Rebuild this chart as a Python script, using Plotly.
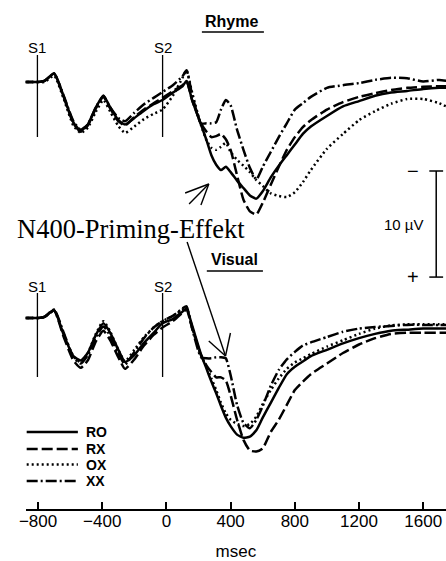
import plotly.graph_objects as go

# ---------------- data ----------------
time_ms = [-900, -800, -760, -700, -640, -580, -534, -490, -440, -393, -350, -300, -258, -200,
           -140, -80, -25, 40, 100, 125, 160, 215, 250, 280, 310, 340, 370, 400, 440, 480,
           520, 560, 600, 650, 700, 750, 800, 850, 900, 1000, 1100, 1200, 1300, 1400, 1500,
           1600, 1700, 1750]

# Rhyme task (microvolts, positive plotted downward)
rhyme_RO = [0.0, 0.0, -0.1, -0.8, 1.4, 3.8, 4.6, 4.0, 2.4, 1.3, 2.4, 3.6, 4.0, 3.4, 2.7, 2.1,
            1.7, 1.0, 0.4, -0.1, 1.7, 4.0, 5.5, 6.9, 7.8, 8.3, 8.0, 8.5, 9.3, 10.0, 10.7, 11.0,
            10.3, 9.0, 7.9, 6.9, 5.9, 4.9, 4.2, 3.2, 2.3, 1.8, 1.3, 1.0, 0.85, 0.65, 0.55, 0.55]
rhyme_RX = [0.0, 0.0, -0.1, -0.8, 1.4, 3.9, 4.7, 4.1, 2.5, 1.4, 2.5, 3.7, 4.1, 3.3, 2.6, 2.0,
            1.5, 0.85, 0.3, -0.1, 1.7, 3.9, 4.7, 5.2, 5.1, 4.9, 5.4, 6.4, 8.8, 11.1, 12.2, 12.5,
            11.4, 9.7, 8.0, 6.4, 5.2, 4.25, 3.6, 2.6, 1.9, 1.4, 1.05, 0.75, 0.55, 0.45, 0.4, 0.4]
rhyme_OX = [0.0, 0.0, 0.0, -0.6, 1.6, 4.1, 4.8, 4.3, 2.8, 1.7, 2.8, 4.15, 4.8, 4.2, 3.5, 3.0,
            2.6, 1.3, -0.4, -1.1, 1.0, 4.05, 5.5, 6.2, 6.4, 6.1, 5.75, 6.6, 7.35, 7.9, 8.5, 9.25,
            9.8, 10.5, 10.75, 10.85, 10.4, 9.45, 8.3, 6.3, 4.9, 3.6, 2.75, 2.05, 1.6, 1.6, 2.0, 2.35]
rhyme_XX = [0.0, 0.0, -0.1, -0.8, 1.3, 3.7, 4.5, 4.0, 2.4, 1.3, 2.4, 3.4, 3.7, 2.9, 2.1, 1.5,
            0.95, 0.3, -0.55, -1.1, 1.2, 3.9, 3.9, 3.9, 3.8, 2.6, 1.7, 2.2, 4.5, 6.4, 8.1, 9.2,
            8.0, 6.6, 5.2, 3.9, 2.6, 2.0, 1.4, 0.55, 0.3, 0.1, -0.2, -0.4, -0.35, -0.05, -0.2, -0.1]

# Visual task
visual_RO = [0.0, 0.0, -0.1, -0.75, 1.6, 3.6, 4.0, 3.3, 1.6, 0.5, 1.4, 3.0, 4.15, 3.5, 2.35, 1.4,
             0.5, 0.1, -0.6, -0.9, 0.7, 3.4, 4.8, 6.0, 7.1, 8.3, 9.4, 10.2, 11.0, 11.3, 11.2, 10.6,
             9.4, 8.0, 6.6, 5.3, 4.6, 4.1, 3.6, 3.0, 2.4, 1.9, 1.5, 1.2, 1.1, 1.0, 1.0, 1.0]
visual_RX = [0.0, 0.0, -0.1, -0.7, 1.8, 4.0, 4.7, 4.0, 2.2, 1.2, 2.1, 3.7, 4.8, 3.9, 2.6, 1.6,
             0.9, 0.3, -0.5, -0.8, 0.9, 3.5, 4.5, 5.1, 5.6, 5.6, 5.9, 7.3, 9.6, 11.5, 12.5, 12.6,
             12.3, 10.75, 9.6, 8.2, 6.8, 6.0, 5.3, 4.3, 3.3, 2.5, 1.9, 1.5, 1.4, 1.4, 1.4, 1.4]
visual_OX = [0.0, 0.0, -0.1, -0.7, 1.5, 3.6, 4.2, 3.3, 1.5, 0.3, 1.3, 3.0, 4.1, 3.0, 1.8, 0.9,
             0.3, -0.2, -0.8, -1.0, 0.9, 3.5, 4.6, 5.7, 6.8, 8.0, 9.0, 9.6, 10.0, 10.2, 10.0, 9.3,
             8.1, 6.8, 5.7, 4.8, 4.2, 3.8, 3.4, 2.7, 2.1, 1.5, 1.0, 0.7, 0.6, 0.6, 0.6, 0.6]
visual_XX = [0.0, 0.0, -0.1, -0.8, 1.4, 3.7, 4.3, 3.5, 1.8, 0.8, 1.7, 3.3, 4.4, 3.2, 1.9, 0.9,
             0.3, -0.2, -0.9, -1.1, 1.0, 3.7, 3.8, 3.8, 3.7, 3.7, 3.8, 5.4, 8.2, 9.9, 10.4, 9.6,
             8.3, 6.4, 4.9, 3.9, 3.2, 2.6, 2.3, 1.8, 1.3, 1.0, 0.85, 0.75, 0.65, 0.65, 0.65, 0.65]

conditions = ["RO", "RX", "OX", "XX"]
panel_titles = ["Rhyme", "Visual"]
tick_vals = [-800, -400, 0, 400, 800, 1200, 1600]
tick_text = ["\u2212800", "\u2212400", "0", "400", "800", "1200", "1600"]
stim_times = [-804, -24]
stim_labels = ["S1", "S2"]
scale_bar_uv = [8.4, 18.4]          # 10 µV calibration bar (top panel units)
scale_label = "10 \u00b5V"
effect_label = "N400-Priming-Effekt"

# ---------------- styling ----------------
W, H = 446, 561
FONT = "Liberation Sans, Arial, Helvetica, sans-serif"
SERIF = "Liberation Serif, Times New Roman, serif"
DASH = {"RO": "solid", "RX": "11px,4px", "OX": "2px,3px", "XX": "11px,3px,2px,3px"}
LW = 2.5


def P(px, py):
    """figure pixel -> paper coordinates (margins are zero)"""
    return px / W, 1 - py / H


rhyme = {"RO": rhyme_RO, "RX": rhyme_RX, "OX": rhyme_OX, "XX": rhyme_XX}
visual = {"RO": visual_RO, "RX": visual_RX, "OX": visual_OX, "XX": visual_XX}

fig = go.Figure()
for c in conditions:
    fig.add_trace(go.Scatter(
        x=time_ms, y=rhyme[c], xaxis="x2", yaxis="y", mode="lines", name=c,
        line=dict(color="black", width=LW, dash=DASH[c], shape="spline", smoothing=0.5),
        showlegend=False, hoverinfo="skip"))
for c in conditions:
    fig.add_trace(go.Scatter(
        x=time_ms, y=visual[c], xaxis="x", yaxis="y2", mode="lines", name=c,
        line=dict(color="black", width=LW, dash=DASH[c], shape="spline", smoothing=0.5),
        showlegend=False, hoverinfo="skip"))

shapes = []
annotations = []

# stimulus onset markers
for t, lab in zip(stim_times, stim_labels):
    shapes.append(dict(type="line", xref="x2", yref="y", x0=t, x1=t, y0=-2.55, y1=5.19,
                       line=dict(color="black", width=1.3)))
    shapes.append(dict(type="line", xref="x", yref="y2", x0=t, x1=t, y0=-2.36, y1=5.57,
                       line=dict(color="black", width=1.3)))
    annotations.append(dict(xref="x2", yref="y", x=t, y=-3.3, text=lab, showarrow=False,
                            xanchor="center", yanchor="middle",
                            font=dict(family=FONT, size=15, color="black")))
    annotations.append(dict(xref="x", yref="y2", x=t, y=-3.0, text=lab, showarrow=False,
                            xanchor="center", yanchor="middle",
                            font=dict(family=FONT, size=15, color="black")))

# panel titles with underline
for title, (cx, cy), (u0, u1, uy) in zip(panel_titles, [(228, 21), (231.5, 259)],
                                          [(198, 261, 32), (203, 260, 271)]):
    x, y = P(cx, cy)
    annotations.append(dict(xref="paper", yref="paper", x=x, y=y, text="<b>%s</b>" % title,
                            showarrow=False, xanchor="center", yanchor="middle",
                            font=dict(family=FONT, size=16, color="black")))
    a0, b0 = P(u0, uy)
    a1, b1 = P(u1, uy)
    shapes.append(dict(type="line", xref="paper", yref="paper", x0=a0, x1=a1, y0=b0, y1=b1,
                       line=dict(color="black", width=1.5)))

# calibration bar
shapes.append(dict(type="line", xref="x2", yref="y", x0=1681, x1=1681,
                   y0=scale_bar_uv[0], y1=scale_bar_uv[1], line=dict(color="black", width=1.5)))
for v in scale_bar_uv:
    shapes.append(dict(type="line", xref="x2", yref="y", x0=1638, x1=1724, y0=v, y1=v,
                       line=dict(color="black", width=1.5)))
annotations.append(dict(xref="x2", yref="y", x=1534, y=scale_bar_uv[0], text="\u2212",
                        showarrow=False, xanchor="center", yanchor="middle",
                        font=dict(family=FONT, size=20, color="black")))
annotations.append(dict(xref="x2", yref="y", x=1534, y=scale_bar_uv[1], text="+",
                        showarrow=False, xanchor="center", yanchor="middle",
                        font=dict(family=FONT, size=20, color="black")))
annotations.append(dict(xref="x2", yref="y", x=1479, y=sum(scale_bar_uv) / 2, text=scale_label,
                        showarrow=False, xanchor="center", yanchor="middle",
                        font=dict(family=FONT, size=15, color="black")))

# N400 label and arrows
x, y = P(126, 229)
annotations.append(dict(xref="paper", yref="paper", x=x, y=y, text=effect_label,
                        showarrow=False, xanchor="center", yanchor="middle",
                        font=dict(family=SERIF, size=26.5, color="black")))
arrow_lines = [((185, 204), (205, 184)), ((181, 193), (205, 184)), ((197, 205), (205, 184)),
               ((183, 242), (222, 356)), ((205, 341), (222, 356)), ((227, 333), (222, 356))]
for (p0, p1) in arrow_lines:
    a0, b0 = P(*p0)
    a1, b1 = P(*p1)
    shapes.append(dict(type="line", xref="paper", yref="paper", x0=a0, y0=b0, x1=a1, y1=b1,
                       line=dict(color="black", width=1.4)))

# legend (drawn)
for c, ly in zip(conditions, [432, 449, 464.5, 481]):
    a0, b0 = P(20, ly)
    a1, b1 = P(72, ly)
    shapes.append(dict(type="line", xref="paper", yref="paper", x0=a0, x1=a1, y0=b0, y1=b1,
                       line=dict(color="black", width=LW, dash=DASH[c])))
    tx, ty = P(78, ly)
    annotations.append(dict(xref="paper", yref="paper", x=tx, y=ty, text="<b>%s</b>" % c,
                            showarrow=False, xanchor="left", yanchor="middle",
                            font=dict(family=FONT, size=14, color="black")))

fig.update_layout(
    width=W, height=H, margin=dict(l=0, r=0, t=0, b=0),
    paper_bgcolor="white", plot_bgcolor="rgba(0,0,0,0)", showlegend=False,
    xaxis=dict(domain=[19 / W, 1], range=[-877, 1742], anchor="y2", showline=True,
               linecolor="black", linewidth=2, ticks="inside", ticklen=7, tickwidth=1.5,
               tickcolor="black", tickvals=tick_vals, ticktext=tick_text,
               ticklabelstandoff=-4,
               tickfont=dict(family=FONT, size=17, color="black"), showgrid=False,
               zeroline=False,
               title=dict(text="msec", font=dict(family=FONT, size=17, color="black"),
                          standoff=16)),
    xaxis2=dict(domain=[19 / W, 1], matches="x", anchor="y", visible=False),
    yaxis=dict(domain=[(H - 295) / H, (H - 20) / H], range=[20.09, -5.849], visible=False),
    yaxis2=dict(domain=[(H - 509) / H, (H - 255) / H], range=[18.02, -5.943], visible=False),
    shapes=shapes, annotations=annotations,
)

fig.write_html("out.html")
